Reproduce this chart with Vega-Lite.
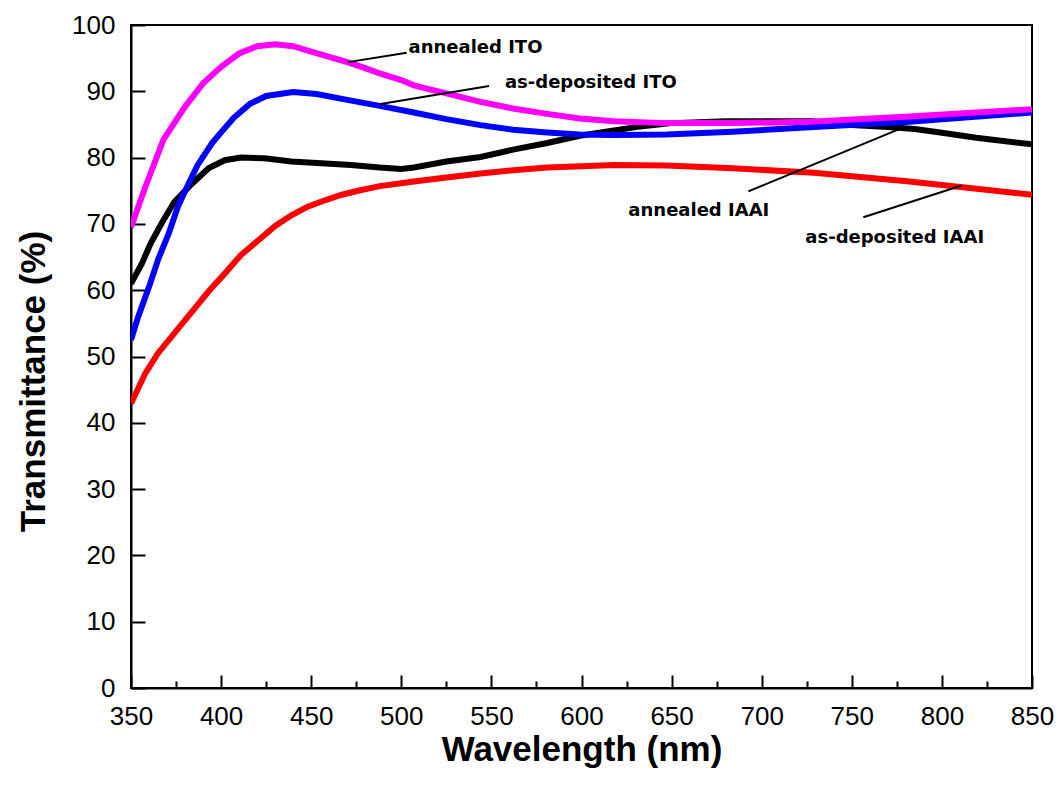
{
  "$schema": "https://vega.github.io/schema/vega-lite/v6.json",
  "width": 901,
  "height": 663,
  "autosize": {"type": "none"},
  "padding": {"left": 131, "top": 25, "right": 27, "bottom": 101},
  "background": "white",
  "config": {
    "view": {"stroke": "black", "strokeWidth": 2},
    "axis": {
      "grid": false,
      "domainColor": "black",
      "domainWidth": 2,
      "tickColor": "black",
      "tickWidth": 2,
      "labelFont": "Liberation Sans",
      "labelFontSize": 26,
      "labelColor": "black",
      "titleFont": "Liberation Sans",
      "titleFontSize": 35,
      "titleFontWeight": "bold",
      "titleColor": "black"
    }
  },
  "datasets": {
    "spectra": [
      {"sample": "annealed IAAI", "wavelength": 350, "T": 61.0},
      {"sample": "annealed IAAI", "wavelength": 356, "T": 64.0},
      {"sample": "annealed IAAI", "wavelength": 361, "T": 67.1},
      {"sample": "annealed IAAI", "wavelength": 367, "T": 70.1},
      {"sample": "annealed IAAI", "wavelength": 374, "T": 73.3},
      {"sample": "annealed IAAI", "wavelength": 384, "T": 76.1},
      {"sample": "annealed IAAI", "wavelength": 393, "T": 78.4},
      {"sample": "annealed IAAI", "wavelength": 402, "T": 79.6},
      {"sample": "annealed IAAI", "wavelength": 411, "T": 80.0},
      {"sample": "annealed IAAI", "wavelength": 424, "T": 79.9},
      {"sample": "annealed IAAI", "wavelength": 439, "T": 79.4},
      {"sample": "annealed IAAI", "wavelength": 458, "T": 79.1},
      {"sample": "annealed IAAI", "wavelength": 472, "T": 78.9},
      {"sample": "annealed IAAI", "wavelength": 488, "T": 78.5},
      {"sample": "annealed IAAI", "wavelength": 500, "T": 78.3},
      {"sample": "annealed IAAI", "wavelength": 507, "T": 78.5},
      {"sample": "annealed IAAI", "wavelength": 525, "T": 79.4},
      {"sample": "annealed IAAI", "wavelength": 544, "T": 80.1},
      {"sample": "annealed IAAI", "wavelength": 562, "T": 81.2},
      {"sample": "annealed IAAI", "wavelength": 581, "T": 82.2},
      {"sample": "annealed IAAI", "wavelength": 599, "T": 83.3},
      {"sample": "annealed IAAI", "wavelength": 618, "T": 84.1},
      {"sample": "annealed IAAI", "wavelength": 630, "T": 84.6},
      {"sample": "annealed IAAI", "wavelength": 650, "T": 85.2},
      {"sample": "annealed IAAI", "wavelength": 680, "T": 85.5},
      {"sample": "annealed IAAI", "wavelength": 728, "T": 85.5},
      {"sample": "annealed IAAI", "wavelength": 750, "T": 84.9},
      {"sample": "annealed IAAI", "wavelength": 770, "T": 84.6},
      {"sample": "annealed IAAI", "wavelength": 785, "T": 84.3},
      {"sample": "annealed IAAI", "wavelength": 801, "T": 83.7},
      {"sample": "annealed IAAI", "wavelength": 819, "T": 83.0},
      {"sample": "annealed IAAI", "wavelength": 850, "T": 82.0},

      {"sample": "as-deposited IAAI", "wavelength": 350, "T": 42.9},
      {"sample": "as-deposited IAAI", "wavelength": 358, "T": 47.5},
      {"sample": "as-deposited IAAI", "wavelength": 365, "T": 50.5},
      {"sample": "as-deposited IAAI", "wavelength": 374, "T": 53.5},
      {"sample": "as-deposited IAAI", "wavelength": 384, "T": 56.8},
      {"sample": "as-deposited IAAI", "wavelength": 393, "T": 59.8},
      {"sample": "as-deposited IAAI", "wavelength": 402, "T": 62.5},
      {"sample": "as-deposited IAAI", "wavelength": 411, "T": 65.3},
      {"sample": "as-deposited IAAI", "wavelength": 421, "T": 67.6},
      {"sample": "as-deposited IAAI", "wavelength": 430, "T": 69.7},
      {"sample": "as-deposited IAAI", "wavelength": 439, "T": 71.3},
      {"sample": "as-deposited IAAI", "wavelength": 448, "T": 72.6},
      {"sample": "as-deposited IAAI", "wavelength": 458, "T": 73.6},
      {"sample": "as-deposited IAAI", "wavelength": 467, "T": 74.4},
      {"sample": "as-deposited IAAI", "wavelength": 476, "T": 75.0},
      {"sample": "as-deposited IAAI", "wavelength": 488, "T": 75.7},
      {"sample": "as-deposited IAAI", "wavelength": 507, "T": 76.4},
      {"sample": "as-deposited IAAI", "wavelength": 525, "T": 77.0},
      {"sample": "as-deposited IAAI", "wavelength": 544, "T": 77.6},
      {"sample": "as-deposited IAAI", "wavelength": 562, "T": 78.1},
      {"sample": "as-deposited IAAI", "wavelength": 581, "T": 78.5},
      {"sample": "as-deposited IAAI", "wavelength": 600, "T": 78.7},
      {"sample": "as-deposited IAAI", "wavelength": 618, "T": 78.9},
      {"sample": "as-deposited IAAI", "wavelength": 647, "T": 78.8},
      {"sample": "as-deposited IAAI", "wavelength": 684, "T": 78.4},
      {"sample": "as-deposited IAAI", "wavelength": 729, "T": 77.7},
      {"sample": "as-deposited IAAI", "wavelength": 782, "T": 76.4},
      {"sample": "as-deposited IAAI", "wavelength": 850, "T": 74.4},

      {"sample": "as-deposited ITO", "wavelength": 350, "T": 52.5},
      {"sample": "as-deposited ITO", "wavelength": 354, "T": 56.0},
      {"sample": "as-deposited ITO", "wavelength": 360, "T": 60.5},
      {"sample": "as-deposited ITO", "wavelength": 365, "T": 64.6},
      {"sample": "as-deposited ITO", "wavelength": 371, "T": 68.6},
      {"sample": "as-deposited ITO", "wavelength": 376, "T": 72.6},
      {"sample": "as-deposited ITO", "wavelength": 382, "T": 76.1},
      {"sample": "as-deposited ITO", "wavelength": 387, "T": 78.9},
      {"sample": "as-deposited ITO", "wavelength": 395, "T": 82.2},
      {"sample": "as-deposited ITO", "wavelength": 400, "T": 83.8},
      {"sample": "as-deposited ITO", "wavelength": 407, "T": 86.0},
      {"sample": "as-deposited ITO", "wavelength": 416, "T": 88.1},
      {"sample": "as-deposited ITO", "wavelength": 425, "T": 89.3},
      {"sample": "as-deposited ITO", "wavelength": 440, "T": 89.9},
      {"sample": "as-deposited ITO", "wavelength": 453, "T": 89.6},
      {"sample": "as-deposited ITO", "wavelength": 470, "T": 88.7},
      {"sample": "as-deposited ITO", "wavelength": 488, "T": 87.8},
      {"sample": "as-deposited ITO", "wavelength": 507, "T": 86.8},
      {"sample": "as-deposited ITO", "wavelength": 525, "T": 85.8},
      {"sample": "as-deposited ITO", "wavelength": 544, "T": 84.9},
      {"sample": "as-deposited ITO", "wavelength": 562, "T": 84.2},
      {"sample": "as-deposited ITO", "wavelength": 581, "T": 83.8},
      {"sample": "as-deposited ITO", "wavelength": 599, "T": 83.5},
      {"sample": "as-deposited ITO", "wavelength": 618, "T": 83.4},
      {"sample": "as-deposited ITO", "wavelength": 647, "T": 83.5},
      {"sample": "as-deposited ITO", "wavelength": 684, "T": 83.9},
      {"sample": "as-deposited ITO", "wavelength": 729, "T": 84.6},
      {"sample": "as-deposited ITO", "wavelength": 782, "T": 85.4},
      {"sample": "as-deposited ITO", "wavelength": 850, "T": 86.8},

      {"sample": "annealed ITO", "wavelength": 350, "T": 69.5},
      {"sample": "annealed ITO", "wavelength": 358, "T": 75.6},
      {"sample": "annealed ITO", "wavelength": 368, "T": 82.7},
      {"sample": "annealed ITO", "wavelength": 380, "T": 87.7},
      {"sample": "annealed ITO", "wavelength": 390, "T": 91.2},
      {"sample": "annealed ITO", "wavelength": 400, "T": 93.7},
      {"sample": "annealed ITO", "wavelength": 410, "T": 95.7},
      {"sample": "annealed ITO", "wavelength": 420, "T": 96.8},
      {"sample": "annealed ITO", "wavelength": 430, "T": 97.1},
      {"sample": "annealed ITO", "wavelength": 440, "T": 96.8},
      {"sample": "annealed ITO", "wavelength": 450, "T": 96.0},
      {"sample": "annealed ITO", "wavelength": 460, "T": 95.2},
      {"sample": "annealed ITO", "wavelength": 470, "T": 94.4},
      {"sample": "annealed ITO", "wavelength": 480, "T": 93.5},
      {"sample": "annealed ITO", "wavelength": 488, "T": 92.7},
      {"sample": "annealed ITO", "wavelength": 500, "T": 91.7},
      {"sample": "annealed ITO", "wavelength": 507, "T": 90.9},
      {"sample": "annealed ITO", "wavelength": 525, "T": 89.7},
      {"sample": "annealed ITO", "wavelength": 544, "T": 88.4},
      {"sample": "annealed ITO", "wavelength": 562, "T": 87.4},
      {"sample": "annealed ITO", "wavelength": 581, "T": 86.6},
      {"sample": "annealed ITO", "wavelength": 599, "T": 85.9},
      {"sample": "annealed ITO", "wavelength": 618, "T": 85.5},
      {"sample": "annealed ITO", "wavelength": 647, "T": 85.2},
      {"sample": "annealed ITO", "wavelength": 684, "T": 85.2},
      {"sample": "annealed ITO", "wavelength": 727, "T": 85.4},
      {"sample": "annealed ITO", "wavelength": 782, "T": 86.2},
      {"sample": "annealed ITO", "wavelength": 850, "T": 87.3}
    ],
    "notes": [
      {"label": "annealed ITO", "x1": 470.4, "y1": 94.4, "x2": 503, "y2": 95.8, "tx": 504, "ty": 96.6},
      {"label": "as-deposited ITO", "x1": 488.5, "y1": 88.1, "x2": 548.7, "y2": 90.8, "tx": 557.5, "ty": 91.2},
      {"label": "annealed IAAI", "x1": 692.6, "y1": 74.9, "x2": 779, "y2": 84.6, "tx": 626, "ty": 72.0},
      {"label": "as-deposited IAAI", "x1": 756.4, "y1": 71.0, "x2": 811, "y2": 75.8, "tx": 724.2, "ty": 67.8}
    ]
  },
  "layer": [
    {
      "data": {"name": "spectra"},
      "mark": {"type": "line", "strokeWidth": 6, "clip": true},
      "encoding": {
        "x": {
          "field": "wavelength",
          "type": "quantitative",
          "title": "Wavelength (nm)",
          "scale": {"domain": [350, 850], "nice": false, "zero": false},
          "axis": {
            "values": [350, 375, 400, 425, 450, 475, 500, 525, 550, 575, 600, 625, 650, 675, 700, 725, 750, 775, 800, 825, 850],
            "labelExpr": "datum.value % 50 === 0 ? datum.label : ''",
            "tickSize": {"condition": {"test": "datum.value % 50 === 0", "value": -13}, "value": -7},
            "labelPadding": 28,
            "labelFlush": false,
            "labelOverlap": false,
            "titleY": 72,
            "titleBaseline": "alphabetic"
          }
        },
        "y": {
          "field": "T",
          "type": "quantitative",
          "title": "Transmittance (%)",
          "scale": {"domain": [0, 100], "nice": false},
          "axis": {
            "values": [0, 10, 20, 30, 40, 50, 60, 70, 80, 90, 100],
            "tickSize": -14,
            "labelPadding": 30,
            "labelFlush": false,
            "labelOverlap": false,
            "titleX": -87,
            "titleY": 356,
            "titleBaseline": "alphabetic"
          }
        },
        "color": {
          "field": "sample",
          "type": "nominal",
          "scale": {
            "domain": ["annealed IAAI", "as-deposited IAAI", "as-deposited ITO", "annealed ITO"],
            "range": ["#000000", "#ff0000", "#0000ff", "#ff00ff"]
          },
          "legend": null
        }
      }
    },
    {
      "data": {"name": "notes"},
      "mark": {"type": "rule", "strokeWidth": 2, "color": "black"},
      "encoding": {
        "x": {"field": "x1", "type": "quantitative", "title": "Wavelength (nm)"},
        "y": {"field": "y1", "type": "quantitative", "title": "Transmittance (%)"},
        "x2": {"field": "x2"},
        "y2": {"field": "y2"}
      }
    },
    {
      "data": {"name": "notes"},
      "mark": {"type": "text", "font": "DejaVu Sans", "fontWeight": "bold", "fontSize": 18, "align": "left", "baseline": "middle", "color": "black"},
      "encoding": {
        "x": {"field": "tx", "type": "quantitative", "title": "Wavelength (nm)"},
        "y": {"field": "ty", "type": "quantitative", "title": "Transmittance (%)"},
        "text": {"field": "label"}
      }
    }
  ]
}
